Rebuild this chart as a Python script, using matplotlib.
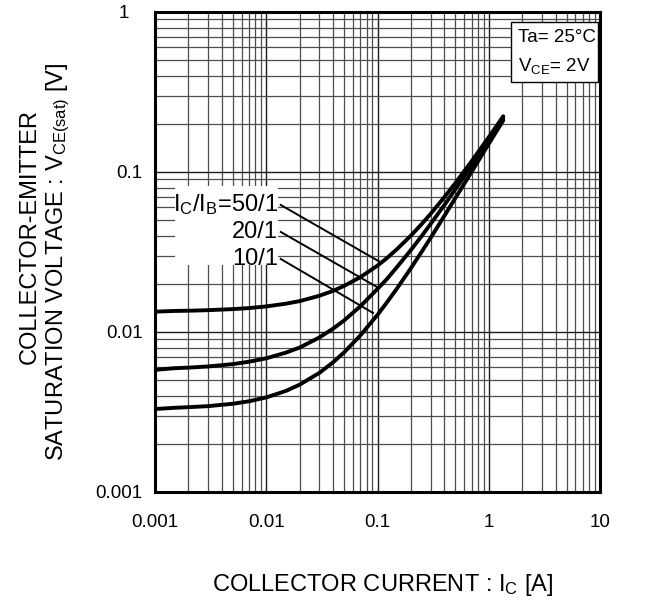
import matplotlib
matplotlib.use("Agg")
import matplotlib.pyplot as plt
from matplotlib.ticker import LogLocator, FixedLocator, FixedFormatter, NullFormatter
from matplotlib.patches import Rectangle
from matplotlib.transforms import ScaledTranslation

plt.rcParams['font.family'] = ['Liberation Sans', 'DejaVu Sans']

# ---- data ----
ic = [0.001, 0.0015, 0.002, 0.003, 0.005, 0.007, 0.01, 0.015, 0.02, 0.03, 0.04, 0.05,
      0.07, 0.1, 0.12, 0.15, 0.2, 0.25, 0.3, 0.4, 0.5, 0.7, 1.0, 1.35]
v_50 = [0.0134, 0.01354, 0.01358, 0.01369, 0.0139, 0.01411, 0.01445, 0.01503, 0.0156, 0.01684, 0.01809, 0.0194,
        0.0220, 0.0260, 0.02876, 0.0330, 0.0401, 0.04733, 0.0547, 0.06976, 0.0851, 0.1165, 0.165, 0.223]
v_20 = [0.0058, 0.00594, 0.00599, 0.00609, 0.0063, 0.00652, 0.00685, 0.00743, 0.0080, 0.00924, 0.01051, 0.0118,
        0.01445, 0.0186, 0.02122, 0.0255, 0.0326, 0.03986, 0.0473, 0.06237, 0.0778, 0.1094, 0.158, 0.216]
v_10 = [0.0033, 0.00336, 0.00339, 0.00344, 0.00356, 0.00369, 0.0039, 0.00428, 0.00469, 0.00555, 0.00648, 0.00745,
        0.00951, 0.0128, 0.01513, 0.01875, 0.0251, 0.03178, 0.0387, 0.05332, 0.0686, 0.100, 0.150, 0.210]

x_ticks = [0.001, 0.01, 0.1, 1, 10]
x_ticklabels = ['0.001', '0.01', '0.1', '1', '10']
y_ticks = [0.001, 0.01, 0.1, 1]
y_ticklabels = ['0.001', '0.01', '0.1', '1']

labels = ['$\\mathregular{I_C/I_B}$=50/1', '20/1', '10/1']
label_y = [0.0622, 0.0422, 0.0286]
leader_start_x = 0.0135
leader_end = [(0.1055, 0.0274), (0.099, 0.0191), (0.0912, 0.01315)]

fig = plt.figure(figsize=(6.49, 6.11), dpi=100)
ax = fig.add_axes([155/649, 1-492/611, 445/649, 480/611])
ax.set_xscale('log')
ax.set_yscale('log')
ax.set_xlim(0.001, 10)
ax.set_ylim(0.001, 1)

ax.xaxis.set_major_locator(FixedLocator(x_ticks))
ax.xaxis.set_major_formatter(FixedFormatter(x_ticklabels))
ax.yaxis.set_major_locator(FixedLocator(y_ticks))
ax.yaxis.set_major_formatter(FixedFormatter(y_ticklabels))
ax.xaxis.set_minor_locator(LogLocator(base=10, subs=range(2, 10), numticks=20))
ax.yaxis.set_minor_locator(LogLocator(base=10, subs=range(2, 10), numticks=20))
ax.xaxis.set_minor_formatter(NullFormatter())
ax.yaxis.set_minor_formatter(NullFormatter())
ax.tick_params(which='both', length=0, labelsize=13.5)
ax.tick_params(axis='x', pad=16)
ax.tick_params(axis='y', pad=9)

ax.grid(which='major', color='#1a1a1a', lw=1.0)
ax.grid(which='minor', color='#4d4d4d', lw=0.9)
ax.set_axisbelow(True)
for s in ax.spines.values():
    s.set_linewidth(2.2)
    s.set_zorder(6)

fig.canvas.draw()
top_lab = ax.get_yticklabels()[-1]
top_lab.set_transform(top_lab.get_transform() + ScaledTranslation(-0.13, 0, fig.dpi_scale_trans))

for v in (v_50, v_20, v_10):
    ax.plot(ic, v, color='black', lw=2.8, solid_capstyle='round', solid_joinstyle='round', zorder=4)

# label area with white background
ax.fill_between([0.0015, 0.0128], [0.0263, 0.0263], [0.082, 0.082], color='white', zorder=2, lw=0)
for lab, ly, (ex, ey) in zip(labels, label_y, leader_end):
    ax.text(0.0128, ly, lab, ha='right', va='center', fontsize=17, zorder=5)
    ax.plot([leader_start_x, ex], [ly, ey], color='black', lw=1.4, zorder=4)

ax.add_patch(Rectangle((0.800, 0.854), 0.1955, 0.125, transform=ax.transAxes,
                       fc='white', ec='black', lw=1.0, zorder=7))
ax.text(0.815, 0.946, 'Ta= 25°C', transform=ax.transAxes, ha='left', va='center', fontsize=13.5, zorder=8)
ax.text(0.815, 0.8875, '$\\mathregular{V_{CE}}$= 2V', transform=ax.transAxes, ha='left', va='center', fontsize=13.5, zorder=8)

fig.text(383/649, 1-585/611, 'COLLECTOR CURRENT : $\\mathregular{I_C}$ [A]', ha='center', va='center', fontsize=17)
fig.text(30/649, 1-237/611, 'COLLECTOR-EMITTER', rotation=90, ha='center', va='center', fontsize=17)
fig.text(58/649, 1-262/611, 'SATURATION VOLTAGE : $\\mathregular{V_{CE(sat)}}$ [V]', rotation=90, ha='center', va='center', fontsize=17)

fig.savefig('out.png', dpi=100)
